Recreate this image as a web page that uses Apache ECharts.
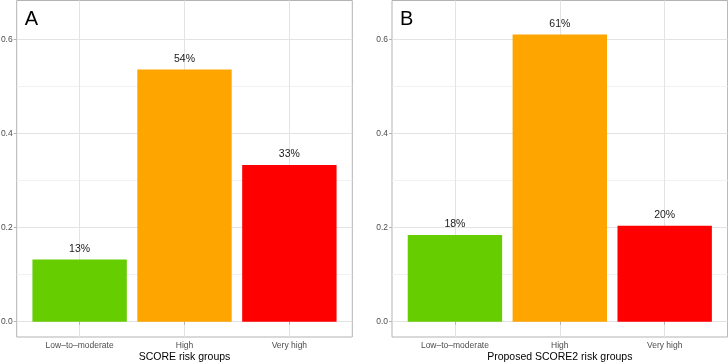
<!DOCTYPE html>
<html>
<head>
<meta charset="utf-8">
<script src="https://cdn.jsdelivr.net/npm/echarts@6/dist/echarts.min.js"></script>
<style>
  html, body { margin: 0; padding: 0; background: #fff; }
  #chart { width: 728px; height: 362px; }
</style>
</head>
<body>
<div id="chart"></div>
<script>
// data
const categories = ['Low\u2013to\u2013moderate', 'High', 'Very high'];
const scoreValues = [0.132, 0.536, 0.333];
const score2Values = [0.184, 0.610, 0.204];
const barColors = ['#66CD00', '#FFA500', '#FF0000'];
const panelLetters = ['A', 'B'];
const axisTitles = ['SCORE risk groups', 'Proposed SCORE2 risk groups'];

const myChart = echarts.init(document.getElementById('chart'), null, { renderer: 'canvas' });

// panel geometry (px)
const panels = [
  { left: 16.7, width: 335.6 },
  { left: 392, width: 335.6 }
];
const panelTop = 0.5, panelHeight = 336.5;
const yMin = -0.0325, yMax = 0.6825;     // ggplot 5% expansion of 0..0.65
const pxPerUnit = panelHeight / (yMax - yMin);

const grids = [], xAxes = [], yAxes = [], series = [], titles = [];

function pct(v) { return Math.round(v * 100) + '%'; }

[scoreValues, score2Values].forEach(function (vals, i) {
  const p = panels[i];
  const band = p.width / 3.2;   // 0.6 expansion on each side
  const g0 = grids.length;

  // border
  grids.push({ left: p.left, top: panelTop, width: p.width, height: panelHeight,
    outerBoundsMode: 'none',
    show: true, borderColor: '#b3b3b3', borderWidth: 1, backgroundColor: 'transparent' });
  xAxes.push({ gridIndex: g0, type: 'value', show: false });
  yAxes.push({ gridIndex: g0, type: 'value', show: false });

  // horizontal gridlines, 0..0.6
  const top06 = panelTop + (yMax - 0.6) * pxPerUnit;
  grids.push({ left: p.left, top: top06, width: p.width, height: 0.6 * pxPerUnit,
    outerBoundsMode: 'none' });
  xAxes.push({ gridIndex: g0 + 1, type: 'value', show: false });
  yAxes.push({
    gridIndex: g0 + 1, type: 'value', min: 0, max: 0.6, interval: 0.2,
    axisLine: { show: false },
    axisTick: { show: true, length: 3, lineStyle: { color: '#b3b3b3' } },
    axisLabel: { color: '#4d4d4d', fontSize: 8.5, fontFamily: 'Liberation Sans', margin: 4,
      formatter: function (v) { return v.toFixed(1); } },
    splitLine: { show: true, lineStyle: { color: '#e3e3e3', width: 1 } },
    minorTick: { show: false, splitNumber: 2 },
    minorSplitLine: { show: true, lineStyle: { color: '#f1f1f1', width: 1 } }
  });

  // bars
  grids.push({ left: p.left + 0.1 * band, top: panelTop, width: 3 * band, height: panelHeight,
    outerBoundsMode: 'none' });
  xAxes.push({
    gridIndex: g0 + 2, type: 'category', data: categories,
    axisLine: { show: false },
    axisTick: { show: true, alignWithLabel: true, length: 3, lineStyle: { color: '#b3b3b3' } },
    axisLabel: { color: '#4d4d4d', fontSize: 8.5, fontFamily: 'Liberation Sans', margin: 4 },
    splitLine: { show: true, alignWithLabel: true, lineStyle: { color: '#e3e3e3', width: 1 } },
    name: axisTitles[i], nameLocation: 'middle', nameGap: 15, nameMoveOverlap: false,
    nameTextStyle: { color: '#000', fontSize: 10.5, fontFamily: 'Liberation Sans' }
  });
  yAxes.push({ gridIndex: g0 + 2, type: 'value', min: yMin, max: yMax, show: false });

  series.push({
    type: 'bar', xAxisIndex: g0 + 2, yAxisIndex: g0 + 2,
    barWidth: '90%',
    data: vals.map(function (v, k) {
      return { value: v, itemStyle: { color: barColors[k] } };
    }),
    label: { show: true, position: 'top', distance: 5, color: '#1a1a1a',
      fontSize: 10.5, fontFamily: 'Liberation Sans',
      formatter: function (d) { return pct(d.value); } },
    silent: true
  });

  titles.push({ text: panelLetters[i], left: p.left + 3, top: 4,
    textStyle: { fontSize: 20, fontWeight: 'normal', color: '#000', fontFamily: 'Liberation Sans' } });
});

myChart.setOption({
  animation: false,
  title: titles,
  grid: grids,
  xAxis: xAxes,
  yAxis: yAxes,
  series: series
});
</script>
</body>
</html>
